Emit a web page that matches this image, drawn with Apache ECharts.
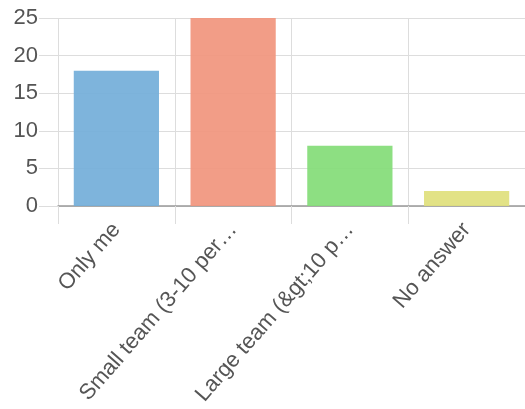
<!DOCTYPE html>
<html><head><meta charset="utf-8">
<script src="https://cdn.jsdelivr.net/npm/echarts@6/dist/echarts.min.js"></script>
<style>html,body{margin:0;padding:0;background:#fff}#c{width:525px;height:409px}</style>
</head><body><div id="c"></div>
<script>
const categories = ["Only me", "Small team (3-10 per…", "Large team (&gt;10 p…", "No answer"];
const values = [18, 25, 8, 2];
const barColors = ["#73aed9", "#f1957d", "#83dc77", "#e0e07c"];
const yTicks = [0, 5, 10, 15, 20, 25];

const chart = echarts.init(document.getElementById('c'));
chart.setOption({
  animation: false,
  grid: { left: 58, right: 0, top: 18, bottom: 203, containLabel: false },
  xAxis: {
    type: 'category',
    data: categories,
    axisLine: { lineStyle: { color: '#999', width: 1.5 } },
    axisTick: { show: true, length: 18, lineStyle: { color: '#ddd' } },
    splitLine: { show: true, lineStyle: { color: '#ddd' } },
    axisLabel: { rotate: 49, color: '#555', fontSize: 22, fontFamily: 'Liberation Sans, Arial, sans-serif', margin: 20, interval: 0 }
  },
  yAxis: {
    type: 'value',
    min: yTicks[0], max: yTicks[yTicks.length - 1], interval: 5,
    axisLine: { show: false },
    axisTick: { show: true, length: 19, lineStyle: { color: '#ddd' } },
    splitLine: { show: true, lineStyle: { color: '#ddd' } },
    axisLabel: { color: '#555', fontSize: 22, fontFamily: 'Liberation Sans, Arial, sans-serif', margin: 20 }
  },
  series: [{
    type: 'bar',
    barWidth: '73%',
    data: values.map((v, i) => ({ value: v, itemStyle: { color: barColors[i], opacity: 0.92 } }))
  }]
});
</script></body></html>
